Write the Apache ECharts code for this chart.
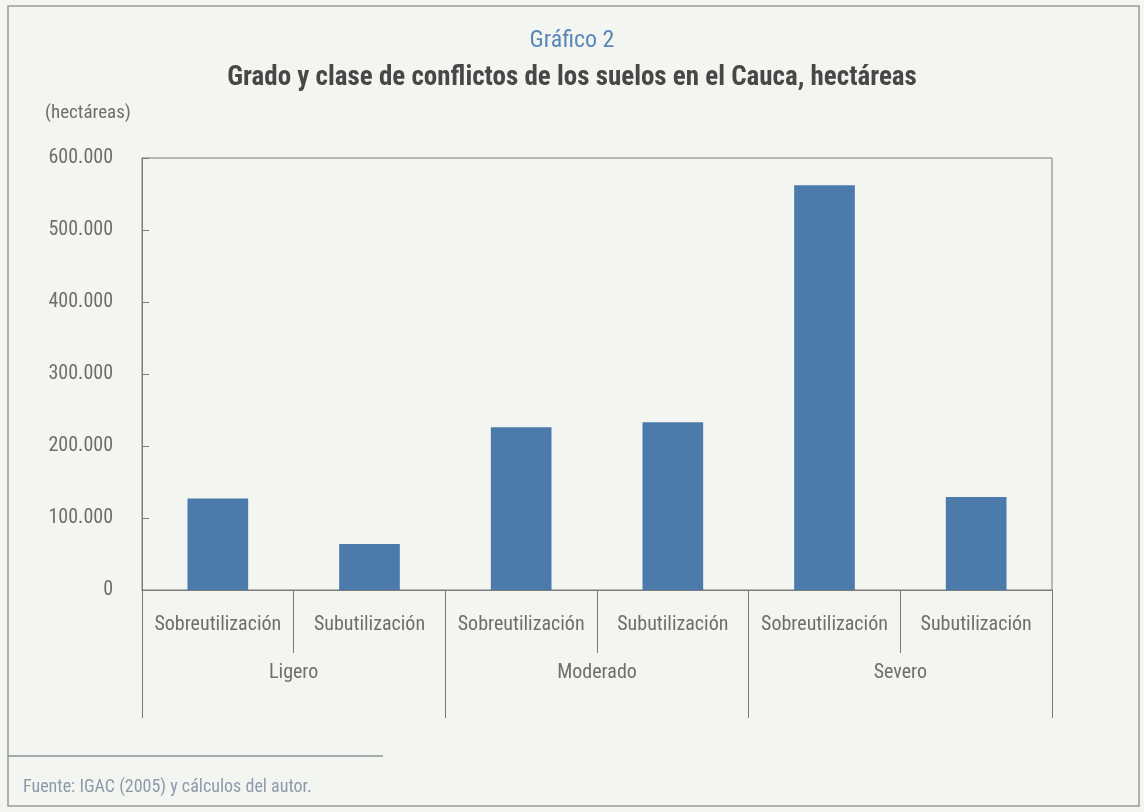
<!DOCTYPE html>
<html>
<head>
<meta charset="utf-8">
<title>Gráfico 2</title>
<script src="https://cdn.jsdelivr.net/npm/echarts@6/dist/echarts.min.js"></script>
<style>
  html, body { margin: 0; padding: 0; background: #f3f6f0; }
  #chart { width: 1144px; height: 812px; }
</style>
</head>
<body>
<div id="chart"></div>
<script>
// clase de conflicto (nivel 1) y grado (nivel 2)
const clases = ['Sobreutilización', 'Subutilización', 'Sobreutilización', 'Subutilización', 'Sobreutilización', 'Subutilización'];
const grados = ['Ligero', 'Moderado', 'Severo'];
// hectáreas por grado/clase
const hectareas = [127000, 64000, 226000, 233000, 562000, 129000];
const yTicks = { min: 0, max: 600000, interval: 100000 };

const narrow = "'Liberation Sans Narrow', 'Arial Narrow', 'Roboto Condensed', sans-serif";
const labelGray = '#6e6e6e';
const lineGray = '#7a7a7a';

function miles(v) {
  return String(v).replace(/\B(?=(\d{3})+(?!\d))/g, '.');
}

const chart = echarts.init(document.getElementById('chart'));

chart.setOption({
  backgroundColor: '#f3f6f0',
  animation: false,
  title: [
    {
      text: 'Gráfico 2',
      left: 'center',
      top: 24,
      textStyle: { color: '#5b86b8', fontSize: 24, fontWeight: 'normal', fontFamily: narrow }
    },
    {
      text: 'Grado y clase de conflictos de los suelos en el Cauca, hectáreas',
      left: 'center',
      top: 60,
      textStyle: { color: '#474747', fontSize: 27, fontWeight: 'bold', fontFamily: narrow }
    },
    {
      text: '(hectáreas)',
      left: 40,
      top: 99,
      textStyle: { color: labelGray, fontSize: 19, fontWeight: 'normal', fontFamily: narrow }
    },
    {
      text: 'Fuente: IGAC (2005) y cálculos del autor.',
      left: 18,
      top: 773,
      textStyle: { color: '#8d9aab', fontSize: 18, fontWeight: 'normal', fontFamily: narrow }
    }
  ],
  graphic: [
    {
      type: 'rect',
      shape: { x: 8, y: 6, width: 1131, height: 800 },
      style: { fill: 'none', stroke: '#999', lineWidth: 1.5 },
      silent: true
    },
    {
      type: 'line',
      shape: { x1: 8, y1: 756, x2: 383, y2: 756 },
      style: { stroke: '#8a8f95', lineWidth: 1.5 },
      silent: true
    }
  ],
  grid: {
    left: 142, right: 92, top: 158, bottom: 222,
    show: true,
    borderColor: lineGray,
    borderWidth: 1
  },
  xAxis: [
    {
      type: 'category',
      data: clases,
      position: 'bottom',
      axisLine: { show: true, lineStyle: { color: lineGray } },
      axisTick: { show: true, interval: 0, length: 63, lineStyle: { color: lineGray } },
      axisLabel: {
        interval: 0,
        margin: 25,
        color: labelGray,
        fontSize: 20,
        fontFamily: narrow
      }
    },
    {
      type: 'category',
      data: grados,
      position: 'bottom',
      axisLine: { show: false },
      axisTick: { show: true, interval: 0, length: 128, lineStyle: { color: lineGray } },
      axisLabel: {
        interval: 0,
        margin: 73,
        color: labelGray,
        fontSize: 20,
        fontFamily: narrow
      }
    }
  ],
  yAxis: {
    type: 'value',
    min: yTicks.min,
    max: yTicks.max,
    interval: yTicks.interval,
    splitLine: { show: false },
    axisLine: { show: true, lineStyle: { color: lineGray } },
    axisTick: { show: true, inside: true, length: 7, lineStyle: { color: lineGray } },
    axisLabel: {
      margin: 29,
      color: labelGray,
      fontSize: 20,
      fontFamily: narrow,
      formatter: miles
    }
  },
  series: [
    {
      type: 'bar',
      xAxisIndex: 0,
      data: hectareas,
      barWidth: '40%',
      itemStyle: { color: '#4c7aab' }
    }
  ]
});
</script>
</body>
</html>
